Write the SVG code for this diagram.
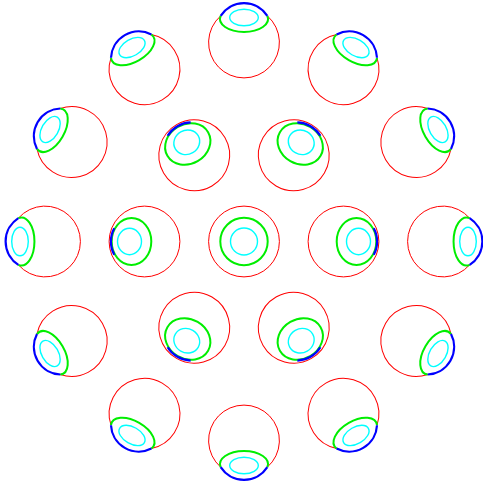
<svg xmlns="http://www.w3.org/2000/svg" xmlns:xlink="http://www.w3.org/1999/xlink" width="483" height="487" viewBox="0 0 483 487">
<style>
.ball{fill:none;stroke:#ff0000;stroke-width:1}
.iris{fill:none;stroke:#00ee00;stroke-width:2}
.cornea{fill:none;stroke:#0000ff;stroke-width:2.2}
.pupil{fill:none;stroke:#00ffff;stroke-width:1.4}
</style>
<defs>
<g id="eyeCenter">
<circle class="ball" cx="0" cy="0" r="35.4"/>
<circle class="iris" cx="0" cy="0" r="23.7"/>
<circle class="pupil" cx="0" cy="0" r="13.5"/>
</g>
<g id="eyeInner">
<circle class="ball" cx="0" cy="0" r="35.4"/>
<ellipse class="iris" cx="13" cy="0" rx="19.8" ry="23.5"/>
<ellipse class="pupil" cx="15" cy="0" rx="12" ry="13.2"/>
<path class="cornea" d="M30.24 -13.3A20.6 24.3 0 0 1 30.24 13.3"/>
</g>
<g id="eyeOuter">
<path class="ball" d="M26.63 23.32A35.4 35.4 0 1 1 26.63 -23.32"/>
<path class="iris" d="M26.63 -23.32A13 24 0 1 0 26.63 23.32"/>
<path class="cornea" d="M26.63 -23.32A27.7 27.7 0 0 1 26.63 23.32"/>
<ellipse class="pupil" cx="25" cy="0" rx="8.3" ry="14.3"/>
</g>
</defs>
<g id="eye-center"><use xlink:href="#eyeCenter" transform="translate(244 241.5)"/></g>
<g id="eye-inner-0"><use xlink:href="#eyeInner" transform="translate(343.5 241.5)"/></g>
<g id="eye-inner-60"><use xlink:href="#eyeInner" transform="translate(293.75 327.7) rotate(60)"/></g>
<g id="eye-inner-120"><use xlink:href="#eyeInner" transform="translate(194.25 327.7) rotate(120)"/></g>
<g id="eye-inner-180"><use xlink:href="#eyeInner" transform="translate(144.5 241.5) rotate(180)"/></g>
<g id="eye-inner-240"><use xlink:href="#eyeInner" transform="translate(194.25 155.3) rotate(240)"/></g>
<g id="eye-inner-300"><use xlink:href="#eyeInner" transform="translate(293.75 155.3) rotate(300)"/></g>
<g id="eye-outer-0"><use xlink:href="#eyeOuter" transform="translate(443 241.5)"/></g>
<g id="eye-outer-30"><use xlink:href="#eyeOuter" transform="translate(416.3 341) rotate(30)"/></g>
<g id="eye-outer-60"><use xlink:href="#eyeOuter" transform="translate(343.5 413.8) rotate(60)"/></g>
<g id="eye-outer-90"><use xlink:href="#eyeOuter" transform="translate(244 440.5) rotate(90)"/></g>
<g id="eye-outer-120"><use xlink:href="#eyeOuter" transform="translate(144.5 413.8) rotate(120)"/></g>
<g id="eye-outer-150"><use xlink:href="#eyeOuter" transform="translate(71.7 341) rotate(150)"/></g>
<g id="eye-outer-180"><use xlink:href="#eyeOuter" transform="translate(45 241.5) rotate(180)"/></g>
<g id="eye-outer-210"><use xlink:href="#eyeOuter" transform="translate(71.7 142) rotate(210)"/></g>
<g id="eye-outer-240"><use xlink:href="#eyeOuter" transform="translate(144.5 69.2) rotate(240)"/></g>
<g id="eye-outer-270"><use xlink:href="#eyeOuter" transform="translate(244 42.5) rotate(270)"/></g>
<g id="eye-outer-300"><use xlink:href="#eyeOuter" transform="translate(343.5 69.2) rotate(300)"/></g>
<g id="eye-outer-330"><use xlink:href="#eyeOuter" transform="translate(416.3 142) rotate(330)"/></g>
</svg>
